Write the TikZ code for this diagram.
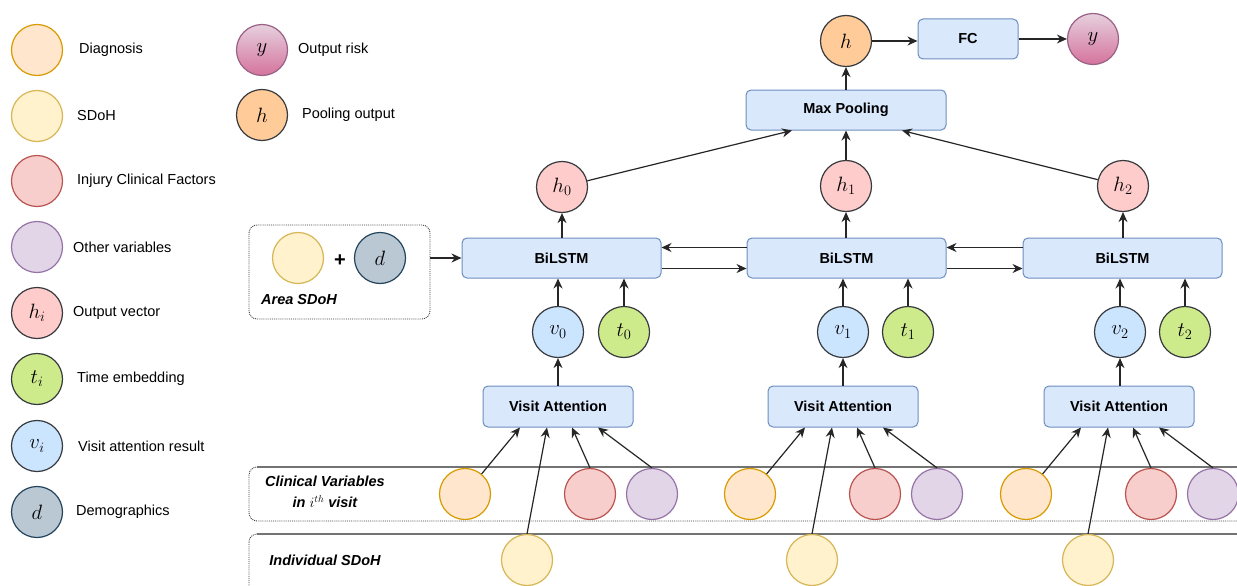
\documentclass[tikz,border=0pt]{standalone}
\usepackage[no-math]{fontspec}
\setmainfont{Liberation Sans}
\usetikzlibrary{arrows.meta,calc,shadings}
\definecolor{boxfill}{HTML}{DAE8FC}
\definecolor{boxstroke}{HTML}{6C8EBF}
\definecolor{dxfill}{HTML}{FFE6CC}\definecolor{dxline}{HTML}{D79B00}
\definecolor{sdfill}{HTML}{FFF2CC}\definecolor{sdline}{HTML}{D6B656}
\definecolor{injfill}{HTML}{F8CECC}\definecolor{injline}{HTML}{B85450}
\definecolor{othfill}{HTML}{E1D5E7}\definecolor{othline}{HTML}{9673A6}
\definecolor{hifill}{HTML}{FFCCCC}
\definecolor{tifill}{HTML}{CDEB8B}
\definecolor{vifill}{HTML}{CCE5FF}
\definecolor{dfill}{HTML}{BAC8D3}\definecolor{dline}{HTML}{23445D}
\definecolor{darkline}{HTML}{36393D}
\definecolor{poolfill}{HTML}{FFCC99}
\definecolor{ytop}{HTML}{E6D0DE}\definecolor{ybot}{HTML}{D5739D}\definecolor{yline}{HTML}{996185}
\tikzset{
  conn/.style={draw=black!85, line width=1.2pt, -{Stealth[length=10pt,width=9pt]}},
  blk/.style={draw=boxstroke, fill=boxfill, rounded corners=5pt, line width=1pt,
    inner sep=0pt, font=\bfseries\fontsize{14.5}{17}\selectfont},
  circ/.style={circle, minimum size=51pt, inner sep=0pt, line width=1.2pt,
    font=\fontsize{20}{22}\selectfont},
  dxc/.style={circ, draw=dxline, fill=dxfill},
  sdc/.style={circ, draw=sdline, fill=sdfill},
  injc/.style={circ, draw=injline, fill=injfill},
  othc/.style={circ, draw=othline, fill=othfill},
  hic/.style={circ, draw=darkline, fill=hifill},
  tic/.style={circ, draw=darkline, fill=tifill},
  vic/.style={circ, draw=darkline, fill=vifill},
  dc/.style={circ, draw=dline, fill=dfill},
  poolc/.style={circ, draw=darkline, fill=poolfill},
  yc/.style={circ, draw=yline, top color=ytop, bottom color=ybot},
  legtext/.style={anchor=west, inner sep=0pt, font=\fontsize{14.5}{17}\selectfont},
  lane/.style={draw=black!75, densely dotted, line width=0.9pt, rounded corners=8pt},
  lanelabel/.style={inner sep=0pt, align=center, font=\bfseries\itshape\fontsize{14.5}{21}\selectfont},
}
\begin{document}
\begin{tikzpicture}[x=1pt,y=-1pt]
\path[use as bounding box, fill=white] (0,0) rectangle (1237,586);

% ---------- legend ----------
\node[dxc]  (lg1) at (37,50) {};   \node[legtext] (lt1) at (79,50) {Diagnosis};
\node[sdc]  (lg2) at (37,116) {};  \node[legtext] (lt2) at (77,116) {SDoH};
\node[injc] (lg3) at (37,181) {};  \node[legtext] (lt3) at (77,181) {Injury Clinical Factors};
\node[othc] (lg4) at (37,247) {};  \node[legtext] (lt4) at (73,247) {Other variables};
\node[hic]  (lg5) at (37,313) {$h_i$}; \node[legtext] (lt5) at (73,313) {Output vector};
\node[tic]  (lg6) at (37,379) {$t_i$}; \node[legtext] (lt6) at (77,379) {Time embedding};
\node[vic]  (lg7) at (37,446) {$v_i$}; \node[legtext] (lt7) at (78,446) {Visit attention result};
\node[dc]   (lg8) at (37,512) {$d$};   \node[legtext] (lt8) at (76,512) {Demographics};
\node[yc]   (lg9) at (262,50) {$y$};   \node[legtext] (lt9) at (298,50) {Output risk};
\node[poolc](lg10) at (262,115) {$h$}; \node[legtext] (lt10) at (302,115) {Pooling output};

% ---------- lanes ----------
\draw[lane] (249,467) rectangle (1250,521);
\draw[lane] (249,534) rectangle (1250,600);
\draw[black!55, line width=1.3pt] (257,467) -- (1237,467);
\draw[black!55, line width=1.3pt] (257,534) -- (1237,534);
\node[lanelabel] (cvlab) at (325,492) {Clinical Variables\\ in $i^{th}$ visit};
\node[lanelabel] (islab) at (325,560) {Individual SDoH};

% ---------- area SDoH ----------
\node[lane, draw, minimum width=181pt, minimum height=94pt, inner sep=0pt] (area) at (339.5,272) {};
\node[sdc] (asd) at (298,258) {};
\node[font=\bfseries\fontsize{20}{20}\selectfont, inner sep=0pt] (plus) at (340,261) {+};
\node[dc] (ad) at (380,258) {$d$};
\node[lanelabel, anchor=west] (arealab) at (261,300) {Area SDoH};

% ---------- top ----------
\node[blk, minimum width=200pt, minimum height=40pt] (mp) at (846,110) {Max Pooling};
\node[poolc] (hh) at (846,41) {$h$};
\node[blk, minimum width=100pt, minimum height=40pt] (fc) at (968,39) {FC};
\node[yc] (yy) at (1093,39) {$y$};
\draw[conn] (mp.north) -- (hh.south);
\draw[conn] (hh.east) -- (hh.east -| fc.west);
\draw[conn] (fc.east) -- (fc.east -| yy.west);

% ---------- BiLSTM row ----------
\node[blk, minimum width=199pt, minimum height=40pt] (bil0) at (561.5,258) {BiLSTM};
\node[blk, minimum width=199pt, minimum height=40pt] (bil1) at (846.5,258) {BiLSTM};
\node[blk, minimum width=199pt, minimum height=40pt] (bil2) at (1122.5,258) {BiLSTM};
\draw[conn] (area.east |- bil0.west) -- (bil0.west);
\draw[conn] ([yshift=-10pt]bil1.north west) -- ([yshift=-10pt]bil0.north east);
\draw[conn] ([yshift=10pt]bil0.south east) -- ([yshift=10pt]bil1.south west);
\draw[conn] ([yshift=-10pt]bil2.north west) -- ([yshift=-10pt]bil1.north east);
\draw[conn] ([yshift=10pt]bil1.south east) -- ([yshift=10pt]bil2.south west);

\node[hic] (h0) at (562,187) {$h_0$};
\node[hic] (h1) at (846,186) {$h_1$};
\node[hic] (h2) at (1123,186) {$h_2$};
\draw[conn] (h0.south |- bil0.north) -- (h0.south);
\draw[conn] (h1.south |- bil1.north) -- (h1.south);
\draw[conn] (h2.south |- bil2.north) -- (h2.south);
\draw[conn] (h0) -- ([xshift=-54pt]mp.south);
\draw[conn] (h1.north) -- (mp.south);
\draw[conn] (h2) -- ([xshift=56pt]mp.south);

% ---------- v / t ----------
\foreach \i/\vx/\tx in {0/558/624, 1/843/908, 2/1120/1185}{
  \node[vic] (v\i) at (\vx,332) {$v_{\i}$};
  \node[tic] (t\i) at (\tx,332) {$t_{\i}$};
  \draw[conn] (v\i.north) -- (v\i.north |- bil\i.south);
  \draw[conn] (t\i.north) -- (t\i.north |- bil\i.south);
}

% ---------- visit attention + inputs ----------
\foreach \i/\cx in {0/558, 1/843, 2/1119}{
  \node[blk, minimum width=150pt, minimum height=41pt] (va\i) at (\cx,406.5) {Visit Attention};
  \draw[conn] (va\i.north -| v\i.south) -- (v\i.south);
  \node[dxc]  (dx\i)  at (\cx-93,494) {};
  \node[injc] (inj\i) at (\cx+32,494) {};
  \node[othc] (oth\i) at (\cx+94,494) {};
  \node[sdc]  (sd\i)  at (\cx-31,560) {};
  \draw[conn] (dx\i) -- ([xshift=-38pt]va\i.south);
  \draw[conn] (sd\i.north) -- ([xshift=-11pt]va\i.south);
  \draw[conn] (inj\i.north) -- ([xshift=14pt]va\i.south);
  \draw[conn] (oth\i.north) -- ([xshift=40pt]va\i.south);
}
\end{tikzpicture}
\end{document}
